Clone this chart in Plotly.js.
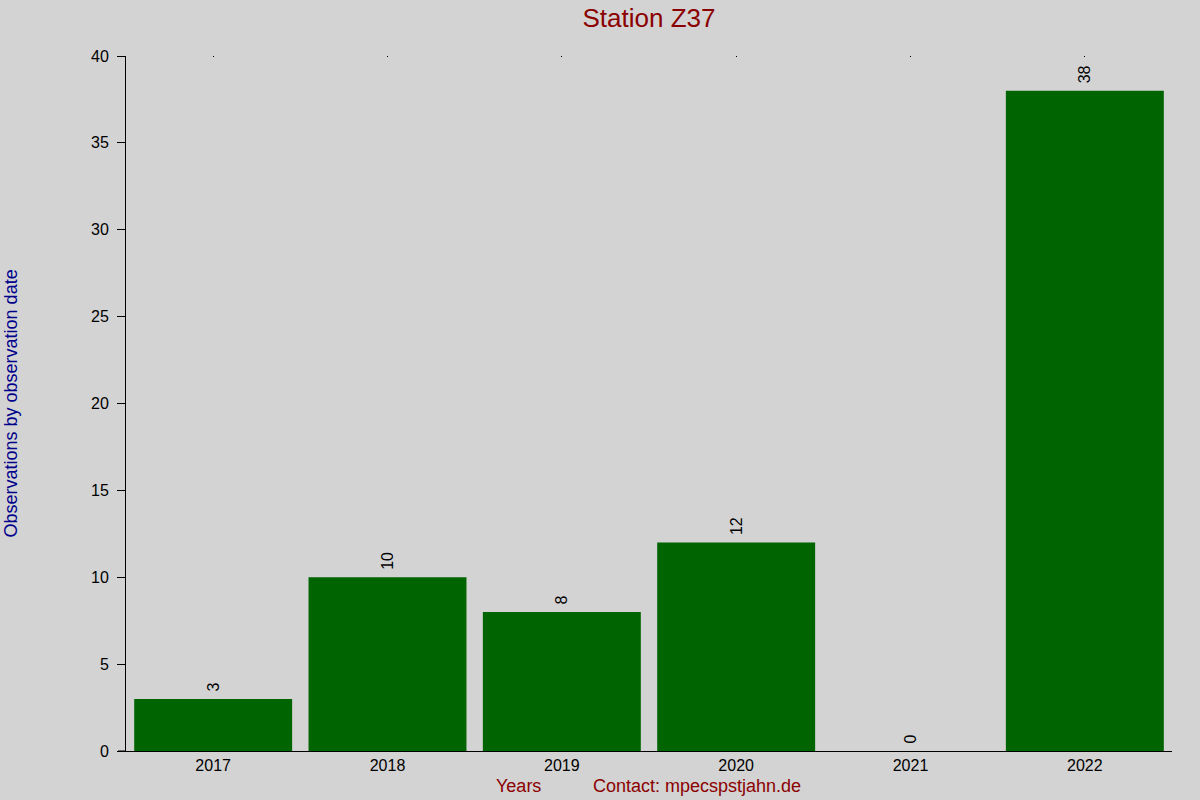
<!DOCTYPE html>
<html>
<head>
<meta charset="utf-8">
<script src="https://cdn.plot.ly/plotly-3.0.1.min.js"></script>
<style>
  html, body { margin: 0; padding: 0; background: #d3d3d3; }
  #chart { width: 1200px; height: 800px; }
</style>
</head>
<body>
<div id="chart"></div>
<script>
// Station Z37 - observations per year

const years = ['2017', '2018', '2019', '2020', '2021', '2022'];
const counts = [3, 10, 8, 12, 0, 38];
const yTicks = [0, 5, 10, 15, 20, 25, 30, 35, 40];

const chartTitle = 'Station Z37';
const yTitle = 'Observations by observation date';
const xTitle = 'Years';
const contactText = 'Contact: mpecspstjahn.de';

const font = 'Arial, "Liberation Sans", sans-serif';
const darkRed = '#8b0000';

const bars = {
    x: years,
    y: counts,
    type: 'bar',
    marker: { color: '#006400' },
    // leading nbsp = small gap between bar top and rotated label
    text: counts.map(v => '\u00a0' + v),
    textposition: 'outside',
    textangle: -90,
    textfont: { family: font, size: 16, color: '#000' },
    cliponaxis: false,
    hoverinfo: 'x+y'
};

// invisible trace so the top axis (tiny tick dots) gets drawn
const topDots = {
    x: years,
    y: counts.map(() => 0),
    xaxis: 'x2',
    type: 'scatter',
    mode: 'none',
    hoverinfo: 'skip',
    showlegend: false
};

const layout = {
    width: 1200,
    height: 800,
    paper_bgcolor: '#d3d3d3',
    plot_bgcolor: '#d3d3d3',
    font: { family: font, size: 16, color: '#000' },
    margin: { l: 126, r: 28, t: 56, b: 49 },
    bargap: 0.094,
    showlegend: false,
    title: {
        text: chartTitle,
        font: { family: font, size: 26, color: darkRed },
        x: 0.5,
        xref: 'paper',
        xanchor: 'center',
        y: 1 - 18 / 800,
        yanchor: 'middle'
    },
    xaxis: {
        type: 'category',
        categoryarray: years,
        range: [-0.5, 5.5],
        showline: true,
        linecolor: '#000',
        linewidth: 1,
        ticks: '',
        showgrid: false,
        zeroline: false,
        tickfont: { family: font, size: 16, color: '#000' }
    },
    xaxis2: {
        type: 'category',
        categoryarray: years,
        range: [-0.5, 5.5],
        overlaying: 'x',
        side: 'top',
        anchor: 'y',
        ticks: 'inside',
        ticklen: 1,
        tickwidth: 1,
        tickcolor: '#000',
        showticklabels: false,
        showline: false,
        showgrid: false,
        zeroline: false
    },
    yaxis: {
        range: [0, 40],
        tickvals: yTicks,
        ticks: 'outside',
        ticklen: 8,
        tickcolor: '#000',
        ticklabelstandoff: 5,
        showline: true,
        linecolor: '#000',
        linewidth: 1,
        showgrid: false,
        zeroline: false,
        tickfont: { family: font, size: 16, color: '#000' }
    },
    shapes: [
        // x axis line continues left under the y ticks
        {
            type: 'line', xref: 'paper', yref: 'y',
            x0: -8 / 1046, x1: 0, y0: 0, y1: 0,
            line: { color: '#000', width: 1 }
        }
    ],
    annotations: [
        {
            text: yTitle, textangle: -90,
            xref: 'paper', yref: 'paper',
            x: (10 - 126) / 1046, y: 0.5,
            xanchor: 'center', yanchor: 'middle',
            showarrow: false,
            font: { family: font, size: 18, color: '#00008b' }
        },
        {
            text: xTitle,
            xref: 'paper', yref: 'paper',
            x: (494 - 126) / 1046, y: -35 / 695,
            xanchor: 'left', yanchor: 'middle',
            showarrow: false,
            font: { family: font, size: 18, color: darkRed }
        },
        {
            text: contactText,
            xref: 'paper', yref: 'paper',
            x: (591 - 126) / 1046, y: -35 / 695,
            xanchor: 'left', yanchor: 'middle',
            showarrow: false,
            font: { family: font, size: 18, color: darkRed }
        }
    ]
};

Plotly.newPlot('chart', [bars, topDots], layout, { displayModeBar: false, staticPlot: true });
</script>
</body>
</html>
